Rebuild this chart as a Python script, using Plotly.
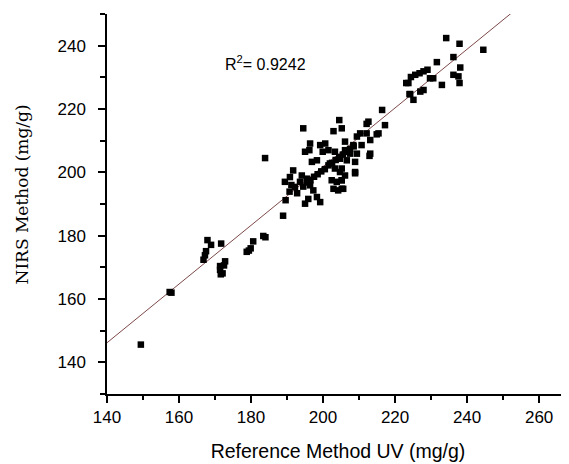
import plotly.graph_objects as go

# Reference (UV) values and NIRS values
ref_uv = [
    149.4, 157.4, 157.9,
    167.9, 168.9, 167.5, 167.2, 166.8, 171.7, 172.8, 172.5, 171.4, 171.4, 172.1, 171.6,
    180.6, 179.9, 178.8, 179.4, 183.4, 184.0,
    183.9, 188.9, 189.6,
    194.5, 204.5, 202.9, 205.2, 196.4, 196.2, 199.2, 200.6, 201.5, 199.9, 195.0, 203.3,
    204.7, 206.1, 196.9, 198.3, 201.9, 203.3, 204.7, 206.1, 191.7, 190.8, 189.4, 194.1,
    193.6, 195.5, 196.4, 192.2, 191.2, 190.7, 192.8, 197.3, 195.9, 198.3, 199.2, 195.0,
    202.9, 204.2, 205.2, 202.4, 203.8, 205.2,
    194.5, 195.5, 196.5, 197.5, 198.5, 199.5, 200.5, 201.5, 202.5, 203.5, 204.5, 205.5,
    206.5, 207.5, 208.5,
    212.6, 217.2, 210.3, 215.4, 213.1, 206.1, 208.4, 210.7, 213.1, 209.4, 207.5, 206.6,
    208.9, 208.9, 205.2, 205.2, 205.6, 216.4, 214.9, 212.1, 212.1, 209.4, 208.9, 212.9,
    234.2, 237.9, 244.5, 231.6, 236.2, 238.1, 236.2, 237.6, 237.9, 233.0, 229.7, 229.0,
    227.9, 226.8, 225.6, 224.4, 223.7, 223.1, 227.9, 224.2, 225.1, 230.6, 224.0, 227.0,
]
nirs = [
    145.6, 162.2, 162.0,
    178.6, 177.1, 175.1, 173.8, 172.4, 177.5, 171.9, 170.6, 170.4, 169.2, 168.1, 167.8,
    178.2, 176.0, 174.9, 175.3, 179.9, 179.5,
    204.5, 186.3, 191.2,
    213.9, 216.5, 213.0, 213.9, 209.1, 207.0, 208.6, 209.1, 207.0, 206.5, 206.5, 206.5,
    204.3, 207.0, 203.3, 203.8, 202.8, 201.2, 200.1, 199.0, 200.6, 198.5, 197.0, 199.0,
    197.0, 198.0, 195.9, 195.4, 196.0, 193.9, 193.4, 194.3, 191.6, 192.2, 190.6, 190.1,
    194.8, 194.3, 194.8, 197.5, 197.0, 197.5,
    195.5, 196.8, 197.5, 198.6, 199.4, 200.3, 201.0, 202.2, 203.0, 203.9, 204.8, 205.6,
    206.5, 207.4, 208.2,
    216.0, 214.9, 212.3, 212.3, 210.2, 209.7, 208.6, 208.6, 205.9, 205.9, 205.9, 203.8,
    203.3, 200.1, 201.2, 197.5, 194.8, 219.7, 212.0, 215.3, 212.3, 211.3, 199.7, 205.2,
    242.4, 240.6, 238.7, 234.8, 236.4, 233.1, 230.8, 230.3, 228.2, 227.6, 229.7, 232.4,
    231.9, 231.3, 230.8, 230.1, 228.2, 228.2, 226.0, 224.7, 222.9, 229.7, 224.7, 225.5,
]

# Regression line parameters
fit_intercept = 16.4
fit_slope = 0.927
fit_x = [140, 255]
fit_y = [fit_intercept + fit_slope * v for v in fit_x]

x_ticks = [140, 160, 180, 200, 220, 240, 260]
x_minor = [150, 170, 190, 210, 230, 250]
y_ticks = [140, 160, 180, 200, 220, 240]
y_minor = [130, 150, 170, 190, 210, 230, 250]

fig = go.Figure()
fig.add_trace(go.Scatter(
    x=fit_x, y=fit_y, mode="lines",
    line=dict(color="#7d4848", width=1), showlegend=False, hoverinfo="skip"))
fig.add_trace(go.Scatter(
    x=ref_uv, y=nirs, mode="markers",
    marker=dict(symbol="square", size=6.5, color="black", line=dict(width=0)),
    showlegend=False))

fig.add_annotation(
    x=172.2, y=234.5, xref="x", yref="y", xanchor="left", yanchor="middle",
    text="R<sup>2</sup>= 0.9242", showarrow=False,
    font=dict(family="Liberation Sans, Arial", size=16, color="black"))

# y-axis title placed as a rotated annotation
fig.add_annotation(
    x=-0.184, y=0.525, xref="paper", yref="paper", xanchor="center", yanchor="middle",
    text="NIRS Method (mg/g)", showarrow=False, textangle=-90,
    font=dict(family="DejaVu Serif, Liberation Serif", size=17, color="black"))

fig.update_layout(
    width=569, height=464,
    margin=dict(l=99, r=8, t=6, b=78),
    paper_bgcolor="white", plot_bgcolor="white",
    font=dict(family="Liberation Sans, Arial", color="black"),
    xaxis=dict(
        range=[140, 268.3], tickvals=x_ticks, ticktext=[str(v) for v in x_ticks],
        showline=True, linecolor="black", linewidth=1.5,
        ticks="outside", ticklen=7, tickwidth=1.5, tickcolor="black",
        minor=dict(tickvals=x_minor, ticks="outside", ticklen=4, tickwidth=1.5, tickcolor="black"),
        showgrid=False, zeroline=False,
        tickfont=dict(size=17, family="Liberation Sans, Arial"),
        title=dict(text="Reference Method UV (mg/g)", standoff=18,
                   font=dict(size=19.5, family="Liberation Sans, Arial")),
    ),
    yaxis=dict(
        range=[130, 250], tickvals=y_ticks, ticktext=[str(v) for v in y_ticks],
        showline=True, linecolor="black", linewidth=1.5,
        ticks="outside", ticklen=7, tickwidth=1.5, tickcolor="black",
        minor=dict(tickvals=y_minor, ticks="outside", ticklen=5, tickwidth=1.5, tickcolor="black"),
        showgrid=False, zeroline=False, ticklabelstandoff=9,
        tickfont=dict(size=17, family="Liberation Sans, Arial"),
    ),
)

fig.write_html("out.html")
